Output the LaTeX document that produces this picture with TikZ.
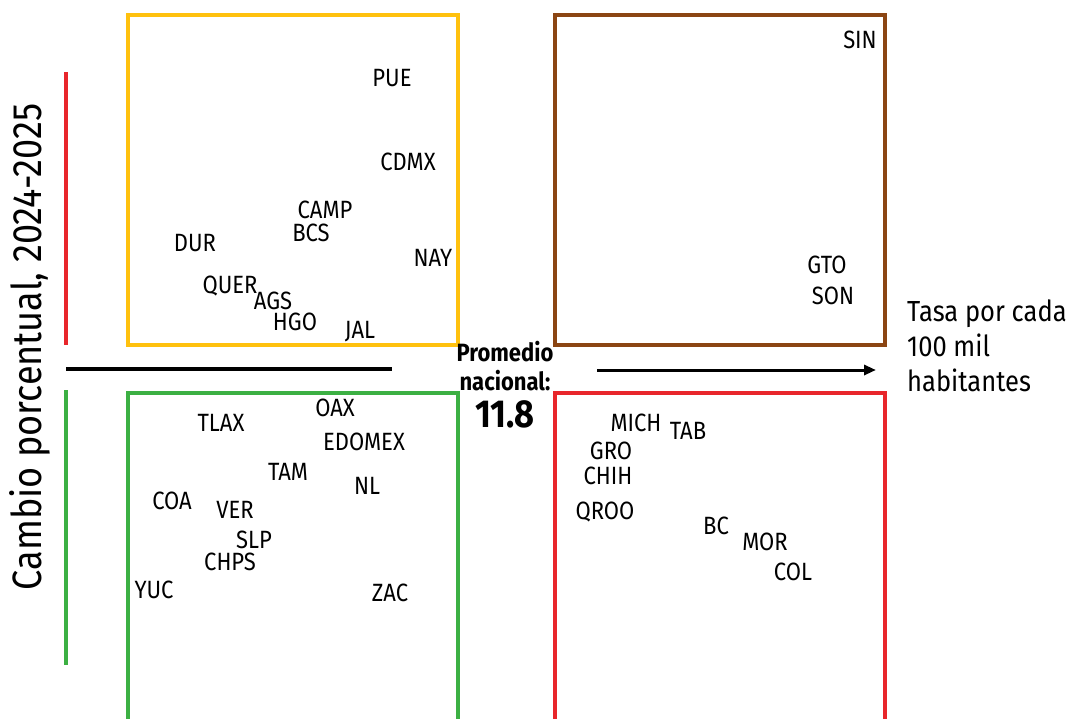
\documentclass[tikz,border=0pt]{standalone}
\usepackage{fontspec}
\setmainfont{Fira Sans}[FakeStretch=0.88]
\usetikzlibrary{arrows.meta}
\definecolor{cyellow}{RGB}{255,193,14}
\definecolor{cbrown}{RGB}{139,69,19}
\definecolor{cgreen}{RGB}{60,176,67}
\definecolor{cred}{RGB}{232,38,43}
\begin{document}
\begin{tikzpicture}[x=1pt,y=-1pt,
  lbl/.style={font=\fontsize{25}{28}\selectfont, inner sep=0pt, anchor=center},
  quad/.style={line width=4pt},
  axisline/.style={line width=3.5pt}]
\useasboundingbox (0,0) rectangle (1089,718);
\clip (0,0) rectangle (1089,718);
% quadrant boxes
\draw[quad, cyellow] (128,15) rectangle (458,345);
\draw[quad, cbrown] (555,15) rectangle (885,345);
\draw[quad, cgreen] (128,393) rectangle (458,740);
\draw[quad, cred] (555,393) rectangle (885,740);
% y axis coloured lines
\coordinate (r1) at (66,72); \coordinate (r2) at (66,345);
\coordinate (g1) at (66,390); \coordinate (g2) at (66,665);
\draw[axisline, cred] (r1) -- (r2);
\draw[axisline, cgreen] (g1) -- (g2);
% x axis lines
\coordinate (h1) at (66,369); \coordinate (h2) at (392,369);
\coordinate (a1) at (597,370); \coordinate (a2) at (876,370);
\draw[line width=3.5pt] (h1) -- (h2);
\draw[line width=3pt, -{Triangle[length=12pt,width=10pt]}] (a1) -- (a2);
% axis titles
\node[font=\fontsize{41}{43}\selectfont, rotate=90, inner sep=0pt] (ytitle) at (30,347) {Cambio porcentual, 2024-2025};
\node[font=\fontsize{29}{35}\selectfont, align=left, anchor=west, inner sep=0pt] (xtitle) at (907,346) {Tasa por cada\\100 mil\\habitantes};
\node[font=\bfseries\fontsize{25}{29}\selectfont, align=center, inner sep=0pt] (prom) at (505,366) {Promedio\\nacional:};
\node[font=\bfseries\fontsize{39}{40}\selectfont, inner sep=0pt] (val) at (505,414) {11.8};
% top-left
\node[lbl] (PUE) at (392,78) {PUE};
\node[lbl] (CDMX) at (408,162) {CDMX};
\node[lbl] (CAMP) at (325,210) {CAMP};
\node[lbl] (BCS) at (311,233) {BCS};
\node[lbl] (DUR) at (195,243) {DUR};
\node[lbl] (NAY) at (433,258) {NAY};
\node[lbl] (QUER) at (230,286) {QUER};
\node[lbl] (AGS) at (273,301) {AGS};
\node[lbl] (HGO) at (295,322) {HGO};
\node[lbl] (JAL) at (360,332) {JAL};
% top-right
\node[lbl] (SIN) at (860,40) {SIN};
\node[lbl] (GTO) at (827,265) {GTO};
\node[lbl] (SON) at (833,296) {SON};
% bottom-left
\node[lbl] (TLAX) at (221,423) {TLAX};
\node[lbl] (OAX) at (335,408) {OAX};
\node[lbl] (EDOMEX) at (364,442) {EDOMEX};
\node[lbl] (TAM) at (288,472) {TAM};
\node[lbl] (NL) at (367,486) {NL};
\node[lbl] (COA) at (172,501) {COA};
\node[lbl] (VER) at (235,510) {VER};
\node[lbl] (SLP) at (254,540) {SLP};
\node[lbl] (CHPS) at (230,562) {CHPS};
\node[lbl] (YUC) at (154,590) {YUC};
\node[lbl] (ZAC) at (390,593) {ZAC};
% bottom-right
\node[lbl] (MICH) at (636,423) {MICH};
\node[lbl] (TAB) at (688,431) {TAB};
\node[lbl] (GRO) at (611,451) {GRO};
\node[lbl] (CHIH) at (608,476) {CHIH};
\node[lbl] (QROO) at (605,512) {QROO};
\node[lbl] (BC) at (716,526) {BC};
\node[lbl] (MOR) at (765,542) {MOR};
\node[lbl] (COL) at (793,572) {COL};
\end{tikzpicture}
\end{document}
